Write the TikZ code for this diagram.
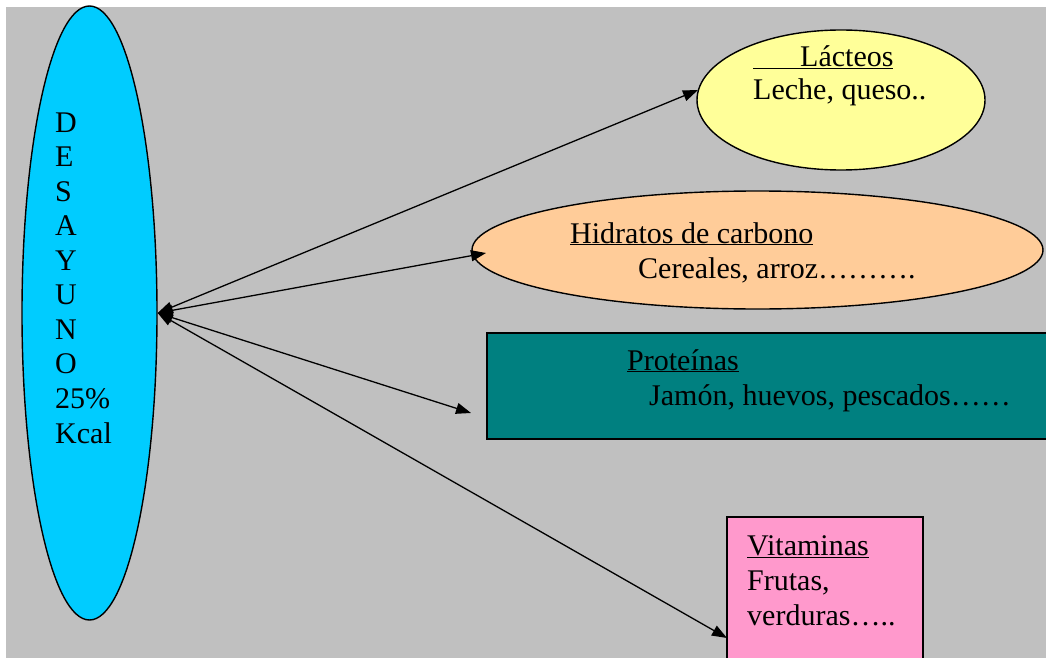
\documentclass[tikz,border=0pt]{standalone}
\usepackage{fontspec}
\setmainfont{Liberation Serif}
\usetikzlibrary{shapes.geometric,arrows.meta}
\definecolor{fondo}{HTML}{C0C0C0}
\definecolor{celeste}{HTML}{00CCFF}
\definecolor{amarillo}{HTML}{FFFF99}
\definecolor{melocoton}{HTML}{FFCC99}
\definecolor{verdeazul}{HTML}{008080}
\definecolor{rosa}{HTML}{FF99CC}
\begin{document}
\begin{tikzpicture}[x=1pt,y=-1pt,
        forma/.style={draw,line width=1.4pt,inner sep=0pt},
        txt/.style={anchor=base west,inner sep=0pt,font=\fontsize{30}{34.6}\selectfont},
        flecha/.style={{Triangle[length=15pt,width=11pt]}-{Triangle[length=15pt,width=11pt]},line width=1.3pt}]
    \useasboundingbox (0,0) rectangle (1046,658);
    \clip (0,0) rectangle (1046,658);
    \fill[fondo] (6,7) rectangle (1046,658);

    % shapes
    \node[forma,ellipse,fill=celeste,minimum width=135pt,minimum height=614pt] (desayuno) at (89.5,313) {};
    \node[forma,ellipse,fill=amarillo,minimum width=288pt,minimum height=140pt] (lacteos) at (841,100) {};
    \node[forma,ellipse,fill=melocoton,minimum width=571pt,minimum height=118pt] (hidratos) at (757.5,250) {};
    \node[forma,rectangle,fill=verdeazul,minimum width=563pt,minimum height=106pt] (proteinas) at (768.5,386) {};
    \node[forma,rectangle,fill=rosa,minimum width=196pt,minimum height=148pt] (vitaminas) at (825,591) {};

    % arrow ends
    \coordinate (finL) at (698,90);
    \coordinate (finH) at (486,253);
    \coordinate (finP) at (471,413);
    \coordinate (finV) at (727,638);
    \foreach \f in {finL,finH,finP,finV}
        \draw[flecha] (desayuno.east) -- (\f);

    % texts
    \foreach \ch [count=\i from 0] in {D,E,S,A,Y,U,N,O,25\%,Kcal}
        \node[txt] (d\i) at (55,132+34.56*\i) {\ch};
    \node[txt] (lac1) at (753,67) {\underline{\hspace{47pt}Lácteos}};
    \node[txt] (lac2) at (753,100) {Leche, queso..};
    \node[txt] (hid1) at (570,243) {\underline{Hidratos de carbono}};
    \node[txt] (hid2) at (638,278) {Cereales, arroz……….};
    \node[txt] (pro1) at (627,370) {\underline{Proteínas}};
    \node[txt] (pro2) at (649,405) {Jamón, huevos, pescados……};
    \node[txt] (vit1) at (747,555) {\underline{Vitaminas}};
    \node[txt] (vit2) at (747,590) {Frutas,};
    \node[txt] (vit3) at (747,625) {verduras…..};
\end{tikzpicture}
\end{document}
